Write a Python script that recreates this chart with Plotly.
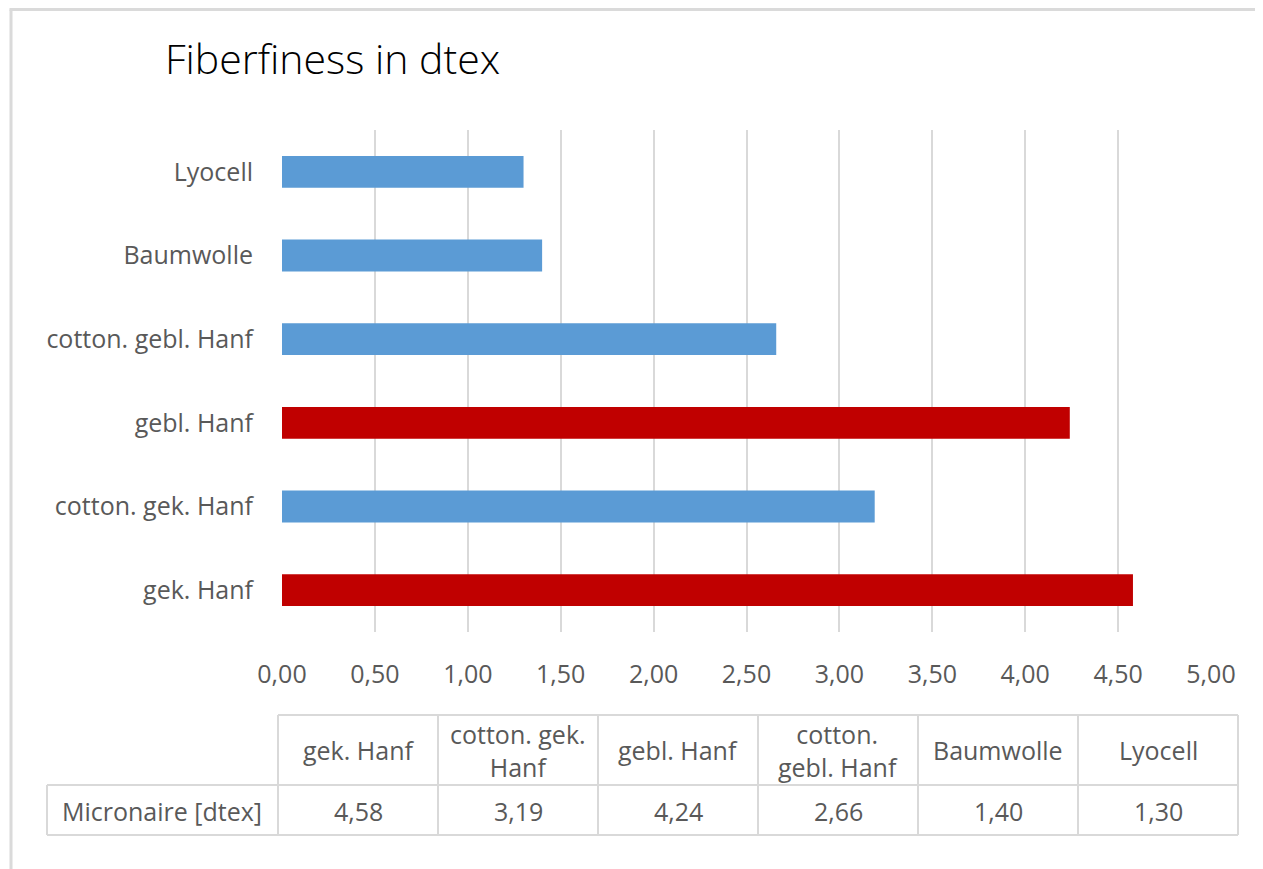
import plotly.graph_objects as go

categories = ["gek. Hanf", "cotton. gek. Hanf", "gebl. Hanf", "cotton. gebl. Hanf", "Baumwolle", "Lyocell"]
values = [4.58, 3.19, 4.24, 2.66, 1.40, 1.30]
bar_colors = ["#C00000", "#5B9BD5", "#C00000", "#5B9BD5", "#5B9BD5", "#5B9BD5"]
table_headers = ["gek. Hanf", "cotton. gek.<br>Hanf", "gebl. Hanf", "cotton.<br>gebl. Hanf", "Baumwolle", "Lyocell"]
table_row_label = "Micronaire [dtex]"
table_values = ["4,58", "3,19", "4,24", "2,66", "1,40", "1,30"]
x_ticks = [0, 0.5, 1, 1.5, 2, 2.5, 3, 3.5, 4, 4.5, 5]

OFF = 8  # page body margin
W, H = 1263 - OFF, 869 - OFF
# plot area in reference (screen) pixels
L, R, T, B = 282, 1211, 130, 632
FONT = "Open Sans"
TXT = "#595959"
GRID = "#D9D9D9"
FS = 25

def px(xp):
    return (xp - L) / (R - L)

def py(yp):
    return (B - yp) / (B - T)

fig = go.Figure(go.Bar(
    y=categories, x=values, orientation="h",
    marker=dict(color=bar_colors, line=dict(width=0)),
    width=0.38,
))

shapes = []
def line(x0, y0, x1, y1, w=2, c=GRID):
    shapes.append(dict(type="line", xref="paper", yref="paper",
                       x0=px(x0), y0=py(y0), x1=px(x1), y1=py(y1),
                       line=dict(color=c, width=w)))

# outer frame (left and top edges)
line(11, 9.5, 11, 869, w=3, c="#DADADA")
line(9.5, 9.5, 1263, 9.5, w=3, c="#DADADA")

# table grid
col_edges = [278 + 160 * i for i in range(7)]
line(278, 715, 1238, 715)
line(47, 785, 1238, 785)
line(47, 835, 1238, 835)
line(47, 785, 47, 835)
for xe in col_edges:
    line(xe, 715, xe, 835)

annotations = []
for i, (h, v) in enumerate(zip(table_headers, table_values)):
    cx = (col_edges[i] + col_edges[i + 1]) / 2
    annotations.append(dict(xref="paper", yref="paper", x=px(cx), y=py(750),
                            text=h, showarrow=False, xanchor="center", yanchor="middle",
                            font=dict(family=FONT, size=FS, color=TXT)))
    annotations.append(dict(xref="paper", yref="paper", x=px(cx), y=py(811),
                            text=v, showarrow=False, xanchor="center", yanchor="middle",
                            font=dict(family=FONT, size=FS, color=TXT)))
annotations.append(dict(xref="paper", yref="paper", x=px(162), y=py(811),
                        text=table_row_label, showarrow=False, xanchor="center", yanchor="middle",
                        font=dict(family=FONT, size=FS, color=TXT)))

fig.update_layout(
    width=W, height=H,
    margin=dict(l=L - OFF, r=W - (R - OFF), t=T - OFF, b=H - (B - OFF)),
    paper_bgcolor="white", plot_bgcolor="white",
    separators=",.",
    showlegend=False,
    title=dict(text="Fiberfiness in dtex", xref="container", yref="container",
               x=(165 - OFF) / W, xanchor="left", y=1 - (60 - OFF) / H, yanchor="middle",
               font=dict(family=FONT, size=41, color="#000000", weight=300)),
    xaxis=dict(range=[0, 5], tickvals=x_ticks, tickformat=".2f",
               showgrid=True, gridcolor=GRID, gridwidth=2,
               zeroline=False, showline=False,
               ticks="outside", ticklen=20, tickcolor="rgba(0,0,0,0)",
               tickfont=dict(family=FONT, size=FS, color=TXT), fixedrange=True),
    yaxis=dict(type="category", range=[-0.5, 5.5], showgrid=False, zeroline=False,
               showline=False, ticks="outside", ticklen=23, tickcolor="rgba(0,0,0,0)",
               tickfont=dict(family=FONT, size=FS, color=TXT), fixedrange=True),
    shapes=shapes, annotations=annotations,
)

fig.write_html("out.html")
